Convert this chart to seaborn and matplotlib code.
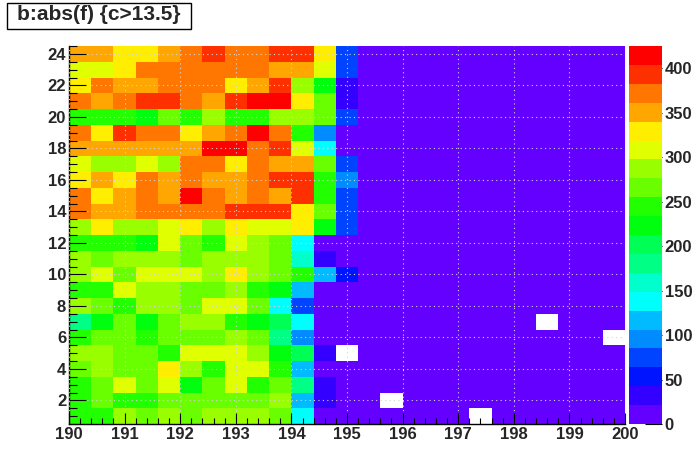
import numpy as np
import matplotlib
matplotlib.use("Agg")
import matplotlib.pyplot as plt
from matplotlib.colors import ListedColormap
from matplotlib.patches import Rectangle
import colorsys
import seaborn as sns

sns.set_style("white")
plt.rcParams['font.family'] = ['Liberation Sans', 'DejaVu Sans']
plt.rcParams['font.weight'] = 'bold'

TITLE = "b:abs(f) {c>13.5}"
ZMAX = 425
X_EDGES = (190.0, 200.0)          # x range, 25 bins
Y_EDGES = (0.5, 24.5)             # y range, 24 bins
x_tick_labels = [190, 191, 192, 193, 194, 195, 196, 197, 198, 199, 200]
y_tick_labels = [2, 4, 6, 8, 10, 12, 14, 16, 18, 20, 22, 24]
z_tick_labels = [0, 50, 100, 150, 200, 250, 300, 350, 400]

# bin contents, one list per y row (x bins 190.0 ... 200.0, width 0.4)
y24 = [350, 350, 329, 329, 350, 372, 393, 372, 372, 393, 393, 329, 74, 10, 10, 10, 10, 10, 10, 10, 10, 10, 10, 10, 10]
y23 = [308, 308, 329, 372, 372, 372, 372, 372, 372, 350, 350, 308, 74, 10, 10, 10, 10, 10, 10, 10, 10, 10, 10, 10, 10]
y22 = [329, 372, 350, 350, 372, 372, 372, 329, 350, 393, 287, 223, 32, 10, 10, 10, 10, 10, 10, 10, 10, 10, 10, 10, 10]
y21 = [372, 350, 372, 393, 393, 372, 350, 393, 414, 425, 329, 266, 32, 10, 10, 10, 10, 10, 10, 10, 10, 10, 10, 10, 10]
y20 = [244, 244, 244, 223, 266, 244, 287, 244, 244, 287, 287, 266, 74, 10, 10, 10, 10, 10, 10, 10, 10, 10, 10, 10, 10]
y19 = [372, 329, 393, 372, 372, 329, 350, 372, 414, 372, 244, 96, 10, 10, 10, 10, 10, 10, 10, 10, 10, 10, 10, 10, 10]
y18 = [350, 350, 350, 350, 350, 350, 414, 414, 372, 393, 308, 138, 10, 10, 10, 10, 10, 10, 10, 10, 10, 10, 10, 10, 10]
y17 = [308, 287, 287, 308, 287, 372, 372, 329, 372, 350, 350, 266, 74, 10, 10, 10, 10, 10, 10, 10, 10, 10, 10, 10, 10]
y16 = [329, 350, 329, 372, 350, 372, 350, 350, 372, 393, 393, 244, 96, 10, 10, 10, 10, 10, 10, 10, 10, 10, 10, 10, 10]
y15 = [372, 329, 350, 372, 350, 414, 372, 350, 372, 350, 393, 244, 74, 10, 10, 10, 10, 10, 10, 10, 10, 10, 10, 10, 10]
y14 = [372, 350, 350, 372, 372, 372, 372, 393, 393, 393, 329, 266, 74, 10, 10, 10, 10, 10, 10, 10, 10, 10, 10, 10, 10]
y13 = [287, 329, 287, 287, 308, 329, 287, 329, 308, 308, 329, 223, 74, 10, 10, 10, 10, 10, 10, 10, 10, 10, 10, 10, 10]
y12 = [244, 244, 244, 223, 308, 266, 244, 308, 287, 266, 138, 10, 10, 10, 10, 10, 10, 10, 10, 10, 10, 10, 10, 10, 10]
y11 = [287, 266, 287, 287, 287, 266, 287, 287, 287, 266, 159, 32, 10, 10, 10, 10, 10, 10, 10, 10, 10, 10, 10, 10, 10]
y10 = [287, 308, 266, 308, 308, 308, 287, 329, 287, 266, 244, 117, 53, 10, 10, 10, 10, 10, 10, 10, 10, 10, 10, 10, 10]
y9 = [244, 244, 308, 287, 287, 266, 266, 287, 244, 223, 117, 10, 10, 10, 10, 10, 10, 10, 10, 10, 10, 10, 10, 10, 10]
y8 = [287, 266, 244, 287, 287, 266, 308, 308, 266, 138, 74, 10, 10, 10, 10, 10, 10, 10, 10, 10, 10, 10, 10, 10, 10]
y7 = [181, 223, 266, 223, 266, 287, 287, 244, 223, 202, 138, 10, 10, 10, 10, 10, 10, 10, 10, 10, 10, 0, 10, 10, 10]
y6 = [244, 266, 266, 244, 266, 266, 266, 287, 266, 181, 96, 10, 10, 10, 10, 10, 10, 10, 10, 10, 10, 10, 10, 10, 0]
y5 = [287, 287, 266, 266, 244, 308, 308, 308, 287, 223, 202, 32, 0, 10, 10, 10, 10, 10, 10, 10, 10, 10, 10, 10, 10]
y4 = [266, 287, 266, 266, 329, 287, 244, 308, 308, 244, 117, 10, 10, 10, 10, 10, 10, 10, 10, 10, 10, 10, 10, 10, 10]
y3 = [244, 266, 308, 266, 308, 223, 266, 308, 244, 266, 181, 32, 10, 10, 10, 10, 10, 10, 10, 10, 10, 10, 10, 10, 10]
y2 = [244, 266, 244, 244, 266, 266, 266, 266, 266, 287, 117, 32, 10, 10, 0, 10, 10, 10, 10, 10, 10, 10, 10, 10, 10]
y1 = [244, 244, 287, 266, 287, 266, 287, 287, 287, 266, 138, 10, 10, 10, 10, 10, 10, 10, 0, 10, 10, 10, 10, 10, 10]

rows_top_to_bottom = [y24, y23, y22, y21, y20, y19, y18, y17, y16, y15, y14, y13,
                      y12, y11, y10, y9, y8, y7, y6, y5, y4, y3, y2, y1]
data = np.array(rows_top_to_bottom, dtype=float)
nrows, ncols = data.shape
mask = data == 0

# ROOT "pretty" palette (50 hues, 280 -> 0) sampled into 20 contour levels
NLEV = 20
pal50 = []
for i in range(50):
    hue = 280.0 - (i + 1) * (280.0 / 50)
    pal50.append(colorsys.hls_to_rgb(hue / 360.0, 0.5, 1.0))
level_colors = [pal50[int((j + 0.99) * 50 / NLEV)] for j in range(NLEV)]
cmap = ListedColormap(level_colors)

W, H = 696, 472
fig = plt.figure(figsize=(W / 100, H / 100), dpi=100)
fig.patch.set_facecolor("white")

L, R, T, B = 69, 625, 46, 424
ax = fig.add_axes([L / W, 1 - B / H, (R - L) / W, (B - T) / H])
cax = fig.add_axes([629 / W, 1 - B / H, (662 - 629) / W, (B - T) / H])

sns.heatmap(data, mask=mask, cmap=cmap, vmin=0, vmax=ZMAX, ax=ax, cbar_ax=cax,
            xticklabels=False, yticklabels=False, linewidths=0)

ax.set_facecolor("white")
# numeric axes mapped onto heatmap cell positions
xw = (X_EDGES[1] - X_EDGES[0]) / ncols
xpos = [(v - X_EDGES[0]) / xw for v in x_tick_labels]
ypos = [(Y_EDGES[1] - v) for v in y_tick_labels]
ax.set_xticks(xpos)
ax.set_xticklabels([str(v) for v in x_tick_labels])
ax.set_yticks(ypos)
ax.set_yticklabels([str(v) for v in y_tick_labels], rotation=0)
ax.set_xticks(np.arange(0, ncols + 0.01, 0.2 / xw), minor=True)
ax.set_yticks(np.arange(0, nrows + 0.01, 0.5), minor=True)
ax.set_xlim(0, ncols)
ax.set_ylim(nrows, 0)

ax.tick_params(axis='x', which='major', direction='in', length=8.1, width=0.8,
               pad=2.5, labelsize=12, bottom=True, top=False, color='black')
ax.tick_params(axis='x', which='minor', direction='in', length=4.0, width=0.8,
               bottom=True, top=False, color='black')
ax.tick_params(axis='y', which='major', direction='in', length=12.0, width=0.8,
               pad=2, labelsize=12, left=True, right=False, color='black')
ax.tick_params(axis='y', which='minor', direction='in', length=6.0, width=0.8,
               left=True, right=False, color='black')

for s in ['top', 'right']:
    ax.spines[s].set_visible(False)
for s in ['left', 'bottom']:
    ax.spines[s].set_visible(True)
    ax.spines[s].set_color('black')
    ax.spines[s].set_linewidth(1.0)

ax.set_axisbelow(False)
ax.grid(True, which='major', color='#d4d4d4', linestyle=(0, (1, 3)), linewidth=0.8)

# colour scale
cb = ax.collections[0].colorbar
cb.outline.set_visible(False)
cb.set_ticks(z_tick_labels)
cb.set_ticklabels([str(v) for v in z_tick_labels])
cax.yaxis.set_ticks_position('right')
cax.tick_params(axis='y', which='major', direction='in', length=12.2, width=0.8,
                pad=2, labelsize=12, right=True, left=False, color='black')
cax.minorticks_off()

# title box
bx0, bx1, by0, by1 = 7, 191, 2.5, 28.5
fig.patches.append(Rectangle((bx0 / W, 1 - by1 / H), (bx1 - bx0) / W, (by1 - by0) / H,
                             transform=fig.transFigure, facecolor='white',
                             edgecolor='black', linewidth=1.0, zorder=5))
fig.text((bx0 + bx1) / 2 / W, 1 - (by0 + by1) / 2 / H + 0.002, TITLE, ha='center', va='center',
         fontsize=15, fontweight='bold', zorder=6)

fig.savefig("out.png", dpi=100, facecolor="white")
